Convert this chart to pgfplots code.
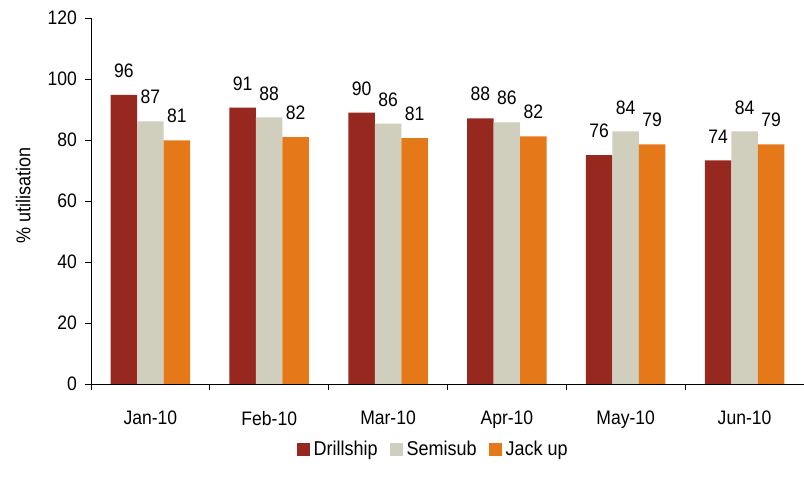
\documentclass[border=0pt]{standalone}
\usepackage{pgfplots}
\pgfplotsset{compat=1.18}
\usepackage{pgfplotstable}
\usepackage{fontspec}
\setmainfont{Liberation Sans}[FakeStretch=0.9]
\definecolor{cDrill}{HTML}{962820}
\definecolor{cSemi}{HTML}{D0CEBC}
\definecolor{cJack}{HTML}{E57819}
% x  value  label
\pgfplotstableread{
x y lab
0 94.8 96
1 90.6 91
2 89.0 90
3 87.1 88
4 75.0 76
5 73.3 74
}\drill
\pgfplotstableread{
x y lab
0 86.1 87
1 87.4 88
2 85.4 86
3 85.8 86
4 82.8 84
5 82.8 84
}\semi
\pgfplotstableread{
x y lab
0 79.9 81
1 80.9 82
2 80.6 81
3 81.2 82
4 78.6 79
5 78.6 79
}\jack
\begin{document}
\fontsize{18pt}{21pt}\selectfont
\begin{tikzpicture}
\begin{axis}[
  scale only axis,
  width=713pt, height=366pt,
  ybar, bar width=26.5pt,
  ymin=0, ymax=120, ytick={0,20,...,120},
  xmin=-0.5, xmax=5.5,
  xtick={-0.5,0.5,1.5,2.5,3.5,4.5,5.5},
  xticklabels={Jan-10,Feb-10,Mar-10,Apr-10,May-10,Jun-10,{}},
  xticklabel style={xshift=59.4pt, yshift=-15pt},
  axis lines*=left,
  axis line style={black, line width=0.8pt},
  x axis line style={-},
  y axis line style={-},
  tick style={black, line width=0.8pt},
  tick align=outside,
  major tick length=6pt,
  tick label style={font=\fontsize{19.5pt}{21pt}\selectfont},
  /pgf/number format/assume math mode=true,
  yticklabel style={xshift=-2pt},
  ylabel={\% utilisation},
  ylabel style={font=\fontsize{20pt}{22pt}\selectfont, at={(axis description cs:-0.095,0.514)}, anchor=center},
  legend columns=-1,
  legend style={draw=none, at={(0.48,-0.178)}, anchor=center,
    font=\fontsize{20pt}{22pt}\selectfont,
    /tikz/every even column/.append style={column sep=10pt},
    /tikz/every odd column/.append style={column sep=2pt}},
  legend image code/.code={\fill[#1] (0pt,-6.5pt) rectangle (13pt,6.5pt);},
  point meta=explicit,
  nodes near coords={\pgfmathprintnumber[fixed,precision=0]{\pgfplotspointmeta}},
  nodes near coords style={font=\fontsize{19.5pt}{21pt}\selectfont, anchor=south, inner sep=0pt, yshift=17pt, text=black},
  clip=false,
]
\addplot[fill=cDrill, draw=none, bar shift=-26.5pt] table[x=x, y=y, meta=lab] {\drill};
\addplot[fill=cSemi, draw=none, bar shift=0pt] table[x=x, y=y, meta=lab] {\semi};
\addplot[fill=cJack, draw=none, bar shift=26.5pt] table[x=x, y=y, meta=lab] {\jack};
\legend{Drillship,Semisub,Jack up}
\end{axis}
\pgfresetboundingbox
\path (-91pt,-105pt) rectangle (713pt,384pt);
\end{tikzpicture}
\end{document}
